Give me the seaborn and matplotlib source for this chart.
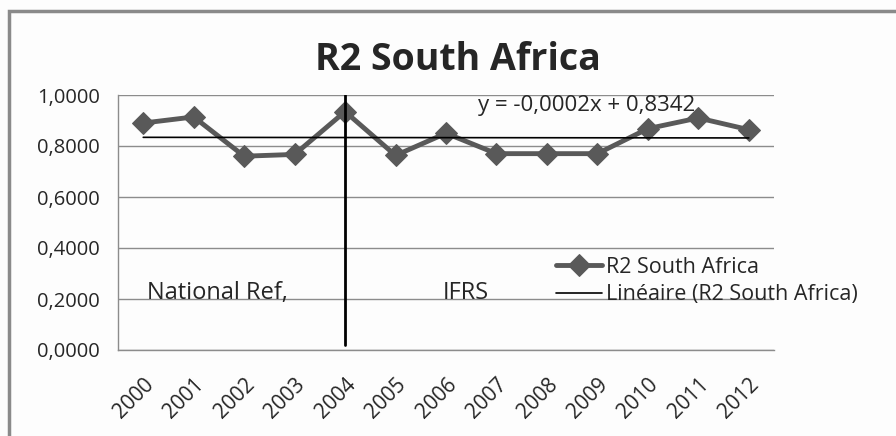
import matplotlib
matplotlib.use("Agg")
import matplotlib.pyplot as plt
from matplotlib.patches import Rectangle
from matplotlib.ticker import FuncFormatter
import numpy as np
import pandas as pd
import seaborn as sns

years = ["2000", "2001", "2002", "2003", "2004", "2005", "2006",
         "2007", "2008", "2009", "2010", "2011", "2012"]
r2_values = [0.890, 0.914, 0.760, 0.767, 0.935, 0.763, 0.850,
             0.770, 0.770, 0.770, 0.868, 0.910, 0.864]
trend_slope = -0.0002
trend_intercept = 0.8342
ifrs_year = "2004"

sns.set_style("white")
plt.rcParams['font.family'] = ['Open Sans', 'DejaVu Sans']

df = pd.DataFrame({"pos": np.arange(len(years)), "R2": r2_values})

fig = plt.figure(figsize=(8.96, 4.36), dpi=100)
fig.patch.set_facecolor("#fdfdfd")
ax = fig.add_axes([118 / 896, 1 - 350 / 436, 656 / 896, 255 / 436])
ax.set_facecolor("#fdfdfd")

# frame around chart
fig.add_artist(Rectangle((9 / 896, -0.1), 1.2, 1 - 10.5 / 436 + 0.1, transform=fig.transFigure,
                         fill=False, edgecolor="#8a8a8a", linewidth=2.5))

sns.lineplot(data=df, x="pos", y="R2", ax=ax, color="#595959", linewidth=3.5,
             marker="D", markersize=11, markeredgecolor="#595959", label="R2 South Africa")

trend = [trend_slope * (i + 1) + trend_intercept for i in range(len(years))]
ax.plot(df["pos"], trend, color="black", linewidth=1.2, label="Linéaire (R2 South Africa)")

ax.axvline(years.index(ifrs_year), ymin=0.02, ymax=1.0, color="black", linewidth=2)

ax.set_xlim(-0.5, len(years) - 0.5)
ax.set_ylim(0, 1.0)
ax.set_yticks(np.arange(0, 1.01, 0.2))
ax.yaxis.set_major_formatter(FuncFormatter(lambda v, p: f"{v:.4f}".replace(".", ",")))
ax.yaxis.grid(True, color="#8c8c8c", linewidth=1)
ax.set_axisbelow(True)

ax.set_xticks(np.arange(len(years)))
ax.set_xticklabels(years, rotation=45, ha="right", rotation_mode="anchor")
ax.set_xticks(np.arange(-0.5, len(years)), minor=True)
ax.tick_params(axis="x", which="major", length=0, labelsize=15, pad=17)
ax.tick_params(axis="x", which="minor", length=6, color="#8c8c8c", width=1, direction="out")
ax.tick_params(axis="y", length=5, color="#8c8c8c", width=1, direction="out", labelsize=14.5, pad=8)
ax.set_xlabel("")
ax.set_ylabel("")

for side in ["top", "right"]:
    ax.spines[side].set_visible(False)
for side in ["left", "bottom"]:
    ax.spines[side].set_color("#8c8c8c")
    ax.spines[side].set_linewidth(1)

ax.text(0.075, 0.224, "National Ref,", fontsize=17, va="center", ha="left")
ax.text(5.94, 0.224, "IFRS", fontsize=17, va="center", ha="left")
ax.text(6.63, 0.96, "y = -0,0002x + 0,8342", fontsize=16, va="center", ha="left")

fig.text(458 / 896, 1 - 60 / 436, "R2 South Africa", fontsize=27, fontweight="bold",
         ha="center", va="center")

ax.legend(loc="center left", bbox_to_anchor=(537 / 896, 1 - 281 / 436),
          bbox_transform=fig.transFigure, frameon=False, fontsize=15.5,
          handlelength=2.1, handletextpad=0.2, labelspacing=0.3)

fig.savefig("out.png", dpi=100, facecolor=fig.get_facecolor())
